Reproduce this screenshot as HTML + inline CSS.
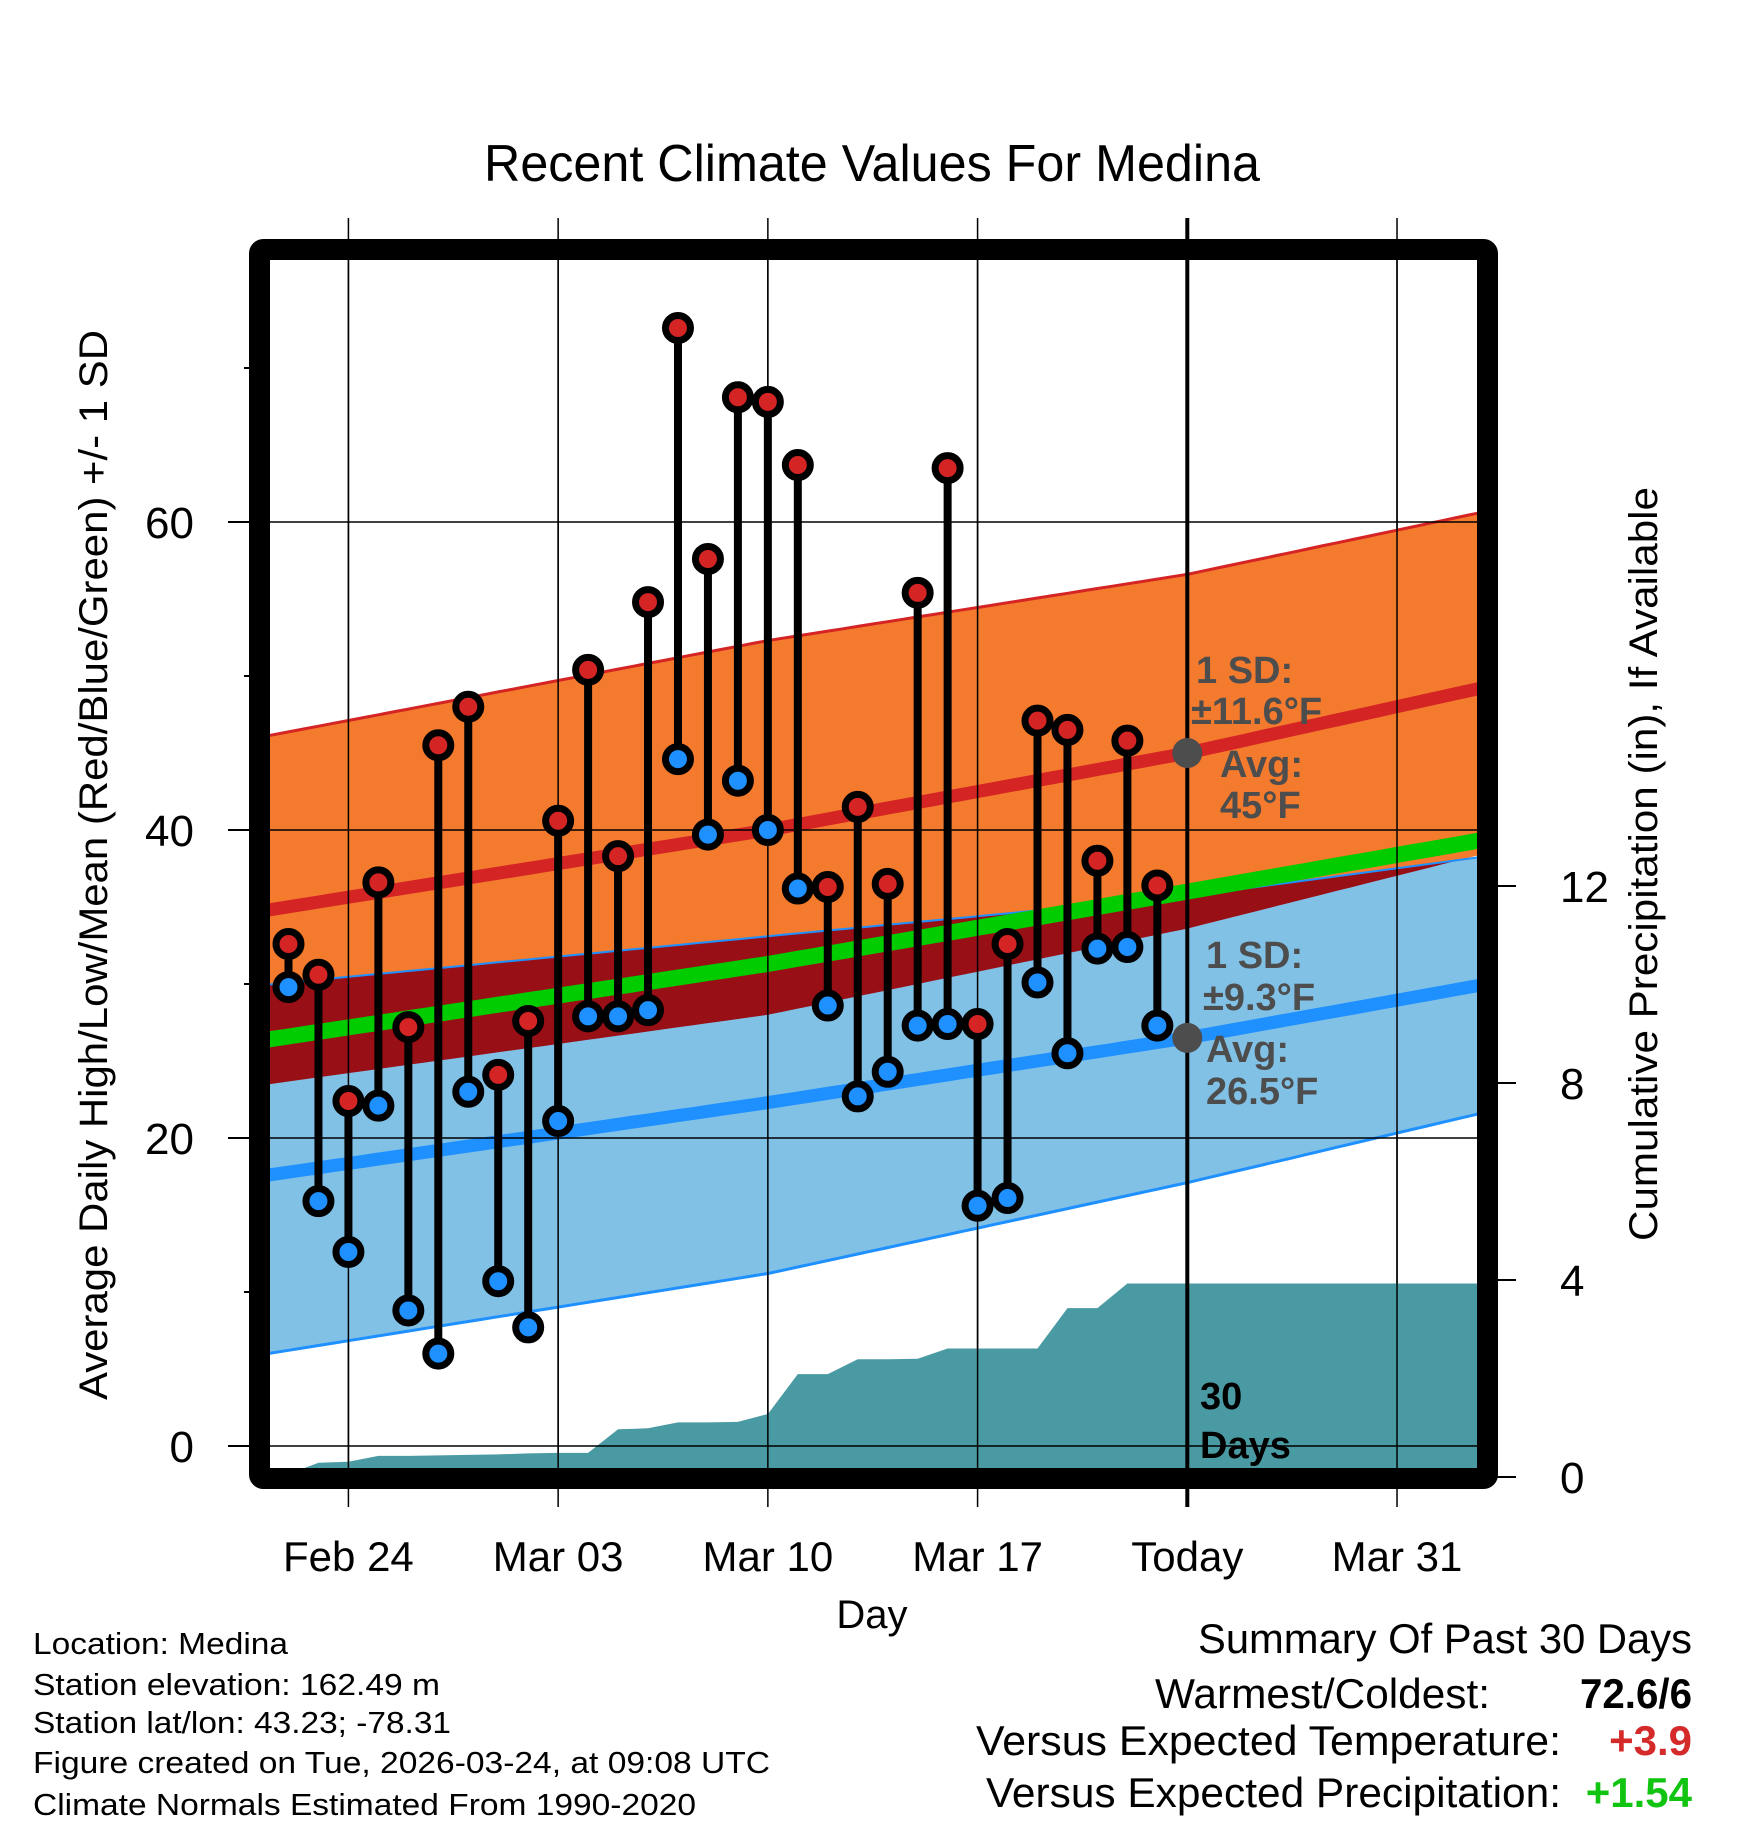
<!DOCTYPE html>
<html><head><meta charset="utf-8"><style>
html,body{margin:0;padding:0;background:#fff;}
svg{display:block;font-family:"Liberation Sans",Arial,sans-serif;}
</style></head><body>
<svg id="chart" width="1748" height="1828" viewBox="0 0 1748 1828" xmlns="http://www.w3.org/2000/svg">
<defs><clipPath id="plotclip"><rect x="270" y="260" width="1208" height="1208"/></clipPath></defs>
<text x="872" y="181" text-anchor="middle" font-size="52" textLength="776" lengthAdjust="spacingAndGlyphs">Recent Climate Values For Medina</text>
<g id="gridbelow"></g>
<g id="plot" clip-path="url(#plotclip)"></g>
<g id="axes"></g>
<rect x="259.5" y="249.5" width="1228" height="1229" fill="none" stroke="#000" stroke-width="21" rx="4"/>
<text transform="translate(107,865) rotate(-90)" text-anchor="middle" font-size="40" textLength="1070" lengthAdjust="spacingAndGlyphs">Average Daily High/Low/Mean (Red/Blue/Green) +/- 1 SD</text>
<text transform="translate(1657,864) rotate(-90)" text-anchor="middle" font-size="40" textLength="754" lengthAdjust="spacingAndGlyphs">Cumulative Precipitation (in), If Available</text>
<text x="872" y="1628" text-anchor="middle" font-size="40">Day</text>
<g font-size="31">
<text x="33" y="1654" textLength="255" lengthAdjust="spacingAndGlyphs">Location: Medina</text>
<text x="33" y="1695" textLength="407" lengthAdjust="spacingAndGlyphs">Station elevation: 162.49 m</text>
<text x="33" y="1733" textLength="418" lengthAdjust="spacingAndGlyphs">Station lat/lon: 43.23; -78.31</text>
<text x="33" y="1773" textLength="737" lengthAdjust="spacingAndGlyphs">Figure created on Tue, 2026-03-24, at 09:08 UTC</text>
<text x="33" y="1815" textLength="663" lengthAdjust="spacingAndGlyphs">Climate Normals Estimated From 1990-2020</text>
</g>
<g font-size="42" text-anchor="end">
<text x="1692" y="1653" textLength="494" lengthAdjust="spacingAndGlyphs">Summary Of Past 30 Days</text>
<text x="1490" y="1708" textLength="335" lengthAdjust="spacingAndGlyphs">Warmest/Coldest:</text>
<text x="1692" y="1708" font-weight="bold" textLength="112" lengthAdjust="spacingAndGlyphs">72.6/6</text>
<text x="1561" y="1755" textLength="585" lengthAdjust="spacingAndGlyphs">Versus Expected Temperature:</text>
<text x="1692" y="1755" font-weight="bold" fill="#d42a2a">+3.9</text>
<text x="1561" y="1807" textLength="575" lengthAdjust="spacingAndGlyphs">Versus Expected Precipitation:</text>
<text x="1692" y="1807" font-weight="bold" fill="#11c411">+1.54</text>
</g>
</svg>
<script>
// ---- data ----
const dayLabels = ["Feb 24","Mar 03","Mar 10","Mar 17","Today","Mar 31"];
const dayLabelIdx = [2,9,16,23,30,37];
const highs = [32.6,30.6,22.4,36.6,27.2,45.5,48.0,24.1,27.6,40.6,50.4,38.3,54.8,72.6,57.6,68.1,67.8,63.7,36.3,41.5,36.5,55.4,63.5,27.4,32.6,47.1,46.5,38.0,45.8,36.4];
const lows  = [29.8,15.9,12.6,22.1,8.8,6.0,23.0,10.7,7.7,21.1,27.9,27.9,28.3,44.6,39.7,43.2,40.0,36.2,28.6,22.7,24.3,27.3,27.4,15.6,16.1,30.1,25.5,32.3,32.4,27.3];
const precipCum = [0.1,0.33,0.35,0.47,0.47,0.48,0.49,0.5,0.52,0.53,0.53,1.01,1.03,1.15,1.15,1.16,1.32,2.13,2.13,2.43,2.43,2.44,2.65,2.65,2.65,2.65,3.47,3.47,3.97,3.97];
const normDays = [-1,16,30,40];
const hiPlus  = [46.0,52.3,56.6,60.7];
const hiMean  = [34.7,40.0,45.0,49.3];
const hiMinus = [23.4,28.0,33.6,38.5];
const loPlus  = [29.9,33.1,35.7,38.3];
const loMean  = [17.5,22.3,26.5,30.0];
const loMinus = [5.9,11.2,17.1,21.7];
const allMean = [26.3,31.3,36.0,39.4];
const yTicks = [0,20,40,60];
const yMinor = [10,30,50,70];
const pTicks = [0,4,8,12];
const todayIdx = 30;

// ---- axes ----
const X = d => 288.5 + 29.96*d;
const Y = t => 1446 - 15.4*t;
const P = p => 1479 - 49.25*p;
const NS = "http://www.w3.org/2000/svg";
function mk(tag, attrs, parent){const e=document.createElementNS(NS,tag);for(const k in attrs)e.setAttribute(k,attrs[k]);parent.appendChild(e);return e;}
function interp(arr, d){
  for(let i=0;i<normDays.length-1;i++){
    if(d<=normDays[i+1]||i===normDays.length-2){
      const t=(d-normDays[i])/(normDays[i+1]-normDays[i]);return arr[i]+(arr[i+1]-arr[i])*t;}
  }
}
const grid=document.getElementById('gridbelow');
const plot=document.getElementById('plot');
const axes=document.getElementById('axes');
const samples=[];for(let d=-1;d<=40.01;d+=0.5)samples.push(d);
function line(arr){return samples.map(d=>X(d).toFixed(1)+','+Y(interp(arr,d)).toFixed(1));}
function band(a,b){return line(a).concat(line(b).reverse()).join(' ');}
function overlap(){const top=samples.map(d=>X(d).toFixed(1)+','+Y(Math.max(interp(loPlus,d),interp(hiMinus,d))).toFixed(1));
 const bot=samples.map(d=>X(d).toFixed(1)+','+Y(interp(hiMinus,d)).toFixed(1)).reverse();return top.concat(bot).join(' ');}

let e;
e=mk('polygon',{points:band(hiPlus,hiMinus),fill:'#f47a2e'},plot);

e=mk('polygon',{points:band(loPlus,loMinus),fill:'#82c1e6'},plot);

e=mk('polygon',{points:overlap(),fill:'#990f16'},plot);

e=mk('polyline',{points:line(hiPlus).join(' '),fill:'none',stroke:'#d42424','stroke-width':3},plot);

e=mk('polyline',{points:line(loPlus).join(' '),fill:'none',stroke:'#1e90ff','stroke-width':2},plot);

e=mk('polyline',{points:line(loMinus).join(' '),fill:'none',stroke:'#1e90ff','stroke-width':3},plot);

e=mk('polyline',{points:line(hiMean).join(' '),fill:'none',stroke:'#d42424','stroke-width':13},plot);

e=mk('polyline',{points:line(loMean).join(' '),fill:'none',stroke:'#1e90ff','stroke-width':13},plot);

e=mk('polyline',{points:line(allMean).join(' '),fill:'none',stroke:'#00cc00','stroke-width':16},plot);


// precip
let pts=[X(0).toFixed(1)+',1490'];
precipCum.forEach((v,i)=>pts.push(X(i).toFixed(1)+','+P(v).toFixed(1)));
pts.push('1480,'+P(precipCum[precipCum.length-1]).toFixed(1));pts.push('1480,1490');
e=mk('polygon',{points:pts.join(' '),fill:'#4a9aa3'},plot);


// gridlines (over bands)
dayLabelIdx.forEach((d,i)=>{
  const x=X(d);
  e=mk('line',{x1:x,x2:x,y1:218,y2:1507,stroke:'#000','stroke-width':i===4?4:1.5},i===4?axes:grid);
  
  if(i!==4){e=mk('line',{x1:x,x2:x,y1:260,y2:1468,stroke:'#000','stroke-width':1.5},plot);
  }
  e=mk('text',{x:x,y:1571,'text-anchor':'middle','font-size':42},axes);
  
  e.textContent=dayLabels[i];
});
yTicks.forEach(t=>{
  const y=Y(t);
  e=mk('line',{x1:228,x2:270,y1:y,y2:y,stroke:'#000','stroke-width':2},grid);
  
  e=mk('line',{x1:270,x2:1478,y1:y,y2:y,stroke:'#000','stroke-width':1.5},plot);
  
  e=mk('text',{x:194,y:y+16,'text-anchor':'end','font-size':44},axes);
  
  e.textContent=t;
});
yMinor.forEach(t=>{
  e=mk('line',{x1:244,x2:262,y1:Y(t),y2:Y(t),stroke:'#000','stroke-width':2},grid);
  
});
pTicks.forEach(p=>{
  const y=P(p)-2;
  e=mk('line',{x1:1490,x2:1516,y1:y,y2:y,stroke:'#000','stroke-width':2},grid);
  
  e=mk('text',{x:1560,y:y+16,'font-size':44},axes);
  
  e.textContent=p;
});

// daily high/low stems and markers
highs.forEach((h,i)=>{
  const x=X(i), lo=lows[i];
  e=mk('line',{x1:x,x2:x,y1:Y(h),y2:Y(lo),stroke:'#000','stroke-width':8},plot);
  
  e=mk('circle',{cx:x,cy:Y(h),r:12.5,fill:'#d42424',stroke:'#000','stroke-width':7},plot);
  
  e=mk('circle',{cx:x,cy:Y(lo),r:12.5,fill:'#1e90ff',stroke:'#000','stroke-width':7},plot);
  
});

// today markers and annotations
const tx=X(todayIdx);
e=mk('circle',{cx:tx,cy:Y(interp(hiMean,todayIdx)),r:15,fill:'#4d4d4d'},axes);

e=mk('circle',{cx:tx,cy:Y(interp(loMean,todayIdx)),r:15,fill:'#4d4d4d'},axes);

const ann=[
 [1196,683,'1 SD:','high-sd-label'],[1191,724,'±11.6°F','high-sd-value'],[1220,777,'Avg:','high-avg-label'],[1220,818,'45°F','high-avg-value'],
 [1206,968,'1 SD:','low-sd-label'],[1203,1010,'±9.3°F','low-sd-value'],[1206,1062,'Avg:','low-avg-label'],[1206,1104,'26.5°F','low-avg-value']];
ann.forEach(a=>{
  e=mk('text',{x:a[0],y:a[1],'font-size':38,'font-weight':'bold',fill:'#4d4d4d'},axes);
  
  e.textContent=a[2];
});
e=mk('text',{x:1200,y:1409,'font-size':38,'font-weight':'bold'},axes);

e.textContent='30';
e=mk('text',{x:1200,y:1458,'font-size':38,'font-weight':'bold'},axes);

e.textContent='Days';
</script>
</body></html>
